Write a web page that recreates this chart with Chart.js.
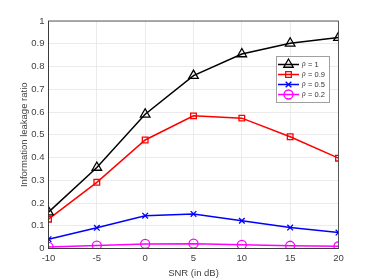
<!DOCTYPE html>
<html><head><meta charset="utf-8">
<script src="https://cdn.jsdelivr.net/npm/chart.js@4"></script>
<style>html,body{margin:0;padding:0;background:#fff}#w{width:374px;height:280px}</style>
</head><body><div id="w"><canvas id="c"></canvas></div>
<script>
const snr = [-10, -5, 0, 5, 10, 15, 20];
const rho1 = [0.16, 0.356, 0.59, 0.76, 0.855, 0.902, 0.927];
const rho09 = [0.129, 0.291, 0.477, 0.583, 0.573, 0.491, 0.397];
const rho05 = [0.041, 0.091, 0.144, 0.152, 0.122, 0.092, 0.07];
const rho02 = [0.007, 0.013, 0.02, 0.021, 0.016, 0.012, 0.01];
const seriesLabels = ['1', '0.9', '0.5', '0.2'];
const xTicks = [-10, -5, 0, 5, 10, 15, 20];

const colors = ['#000000', '#ff0000', '#0000ff', '#ff00ff'];
const styles = ['triangle', 'rect', 'crossRot', 'circle'];
const radii = [5.5, 4, 4, 4.5];
const all = [rho1, rho09, rho05, rho02];

const datasets = all.map((d, i) => ({
  label: seriesLabels[i],
  data: snr.map((x, j) => ({x: x, y: d[j]})),
  borderColor: colors[i],
  backgroundColor: 'rgba(0,0,0,0)',
  borderWidth: 1.5,
  pointStyle: styles[i],
  pointRadius: radii[i],
  pointBorderWidth: 1.3,
  pointBorderColor: colors[i],
  pointBackgroundColor: 'rgba(0,0,0,0)',
  tension: 0
}));

const legendPlugin = {
  id: 'mlegend',
  afterDatasetsDraw(chart) {
    const ctx = chart.ctx;
    ctx.save();
    ctx.fillStyle = '#fff';
    ctx.fillRect(276, 56, 54, 47);
    ctx.strokeStyle = '#a0a0a0';
    ctx.lineWidth = 1;
    ctx.strokeRect(276.5, 56.5, 53, 46);
    const ys = [64.5, 74.5, 84.5, 94.5];
    chart.data.datasets.forEach((ds, i) => {
      const y = ys[i];
      ctx.strokeStyle = ds.borderColor;
      ctx.lineWidth = 1.5;
      ctx.beginPath(); ctx.moveTo(278, y); ctx.lineTo(299, y); ctx.stroke();
      ctx.fillStyle = 'rgba(0,0,0,0)';
      ctx.lineWidth = 1.3;
      Chart.helpers.drawPoint(ctx, {pointStyle: ds.pointStyle, radius: ds.pointRadius, borderWidth: 1.3, rotation: 0}, 288.5, y);
      ctx.fillStyle = '#333';
      ctx.textBaseline = 'middle';
      ctx.font = 'italic 7.5px "Liberation Serif"';
      ctx.fillText('\u03C1', 302, y);
      ctx.font = '7.5px "Liberation Sans"';
      ctx.fillText(' = ' + ds.label, 306, y);
    });
    ctx.restore();
  }
};

const boxPlugin = {
  id: 'box',
  afterDraw(chart) {
    const a = chart.chartArea, ctx = chart.ctx;
    ctx.save();
    ctx.strokeStyle = '#333';
    ctx.lineWidth = 0.8;
    ctx.strokeRect(a.left, a.top, a.right - a.left, a.bottom - a.top);
    ctx.restore();
  }
};

new Chart(document.getElementById('c'), {
  type: 'line',
  data: {datasets},
  options: {
    responsive: true, maintainAspectRatio: false, animation: false,
    layout: {padding: {left: 19, right: 35.5, top: 21, bottom: 0}},
    plugins: {legend: {display: false}, tooltip: {enabled: false}},
    scales: {
      x: {
        type: 'linear', min: -10, max: 20,
        afterBuildTicks(s) { s.ticks = xTicks.map(v => ({value: v})); },
        afterFit(s) { s.height = 31.5; },
        grid: {color: '#e6e6e6', lineWidth: 0.8, drawTicks: false},
        border: {color: '#333', width: 0.8},
        ticks: {color: '#404040', font: {family: 'Liberation Sans', size: 9.5}, padding: 4},
        title: {display: true, text: 'SNR (in dB)', color: '#404040', font: {family: 'Liberation Sans', size: 9.5}, padding: {top: 1, bottom: 1}}
      },
      y: {
        min: 0, max: 1,
        afterFit(s) { s.width = 29.5; },
        grid: {color: '#e6e6e6', lineWidth: 0.8, drawTicks: false},
        border: {color: '#333', width: 0.8},
        ticks: {stepSize: 0.1, color: '#404040', font: {family: 'Liberation Sans', size: 9.5}, padding: 4,
          callback: v => String(Math.round(v * 10) / 10)},
        title: {display: true, text: 'Information leakage ratio', color: '#404040', font: {family: 'Liberation Sans', size: 9.5}, padding: {top: 0, bottom: 0}}
      }
    }
  },
  plugins: [legendPlugin, boxPlugin]
});
</script></body></html>
